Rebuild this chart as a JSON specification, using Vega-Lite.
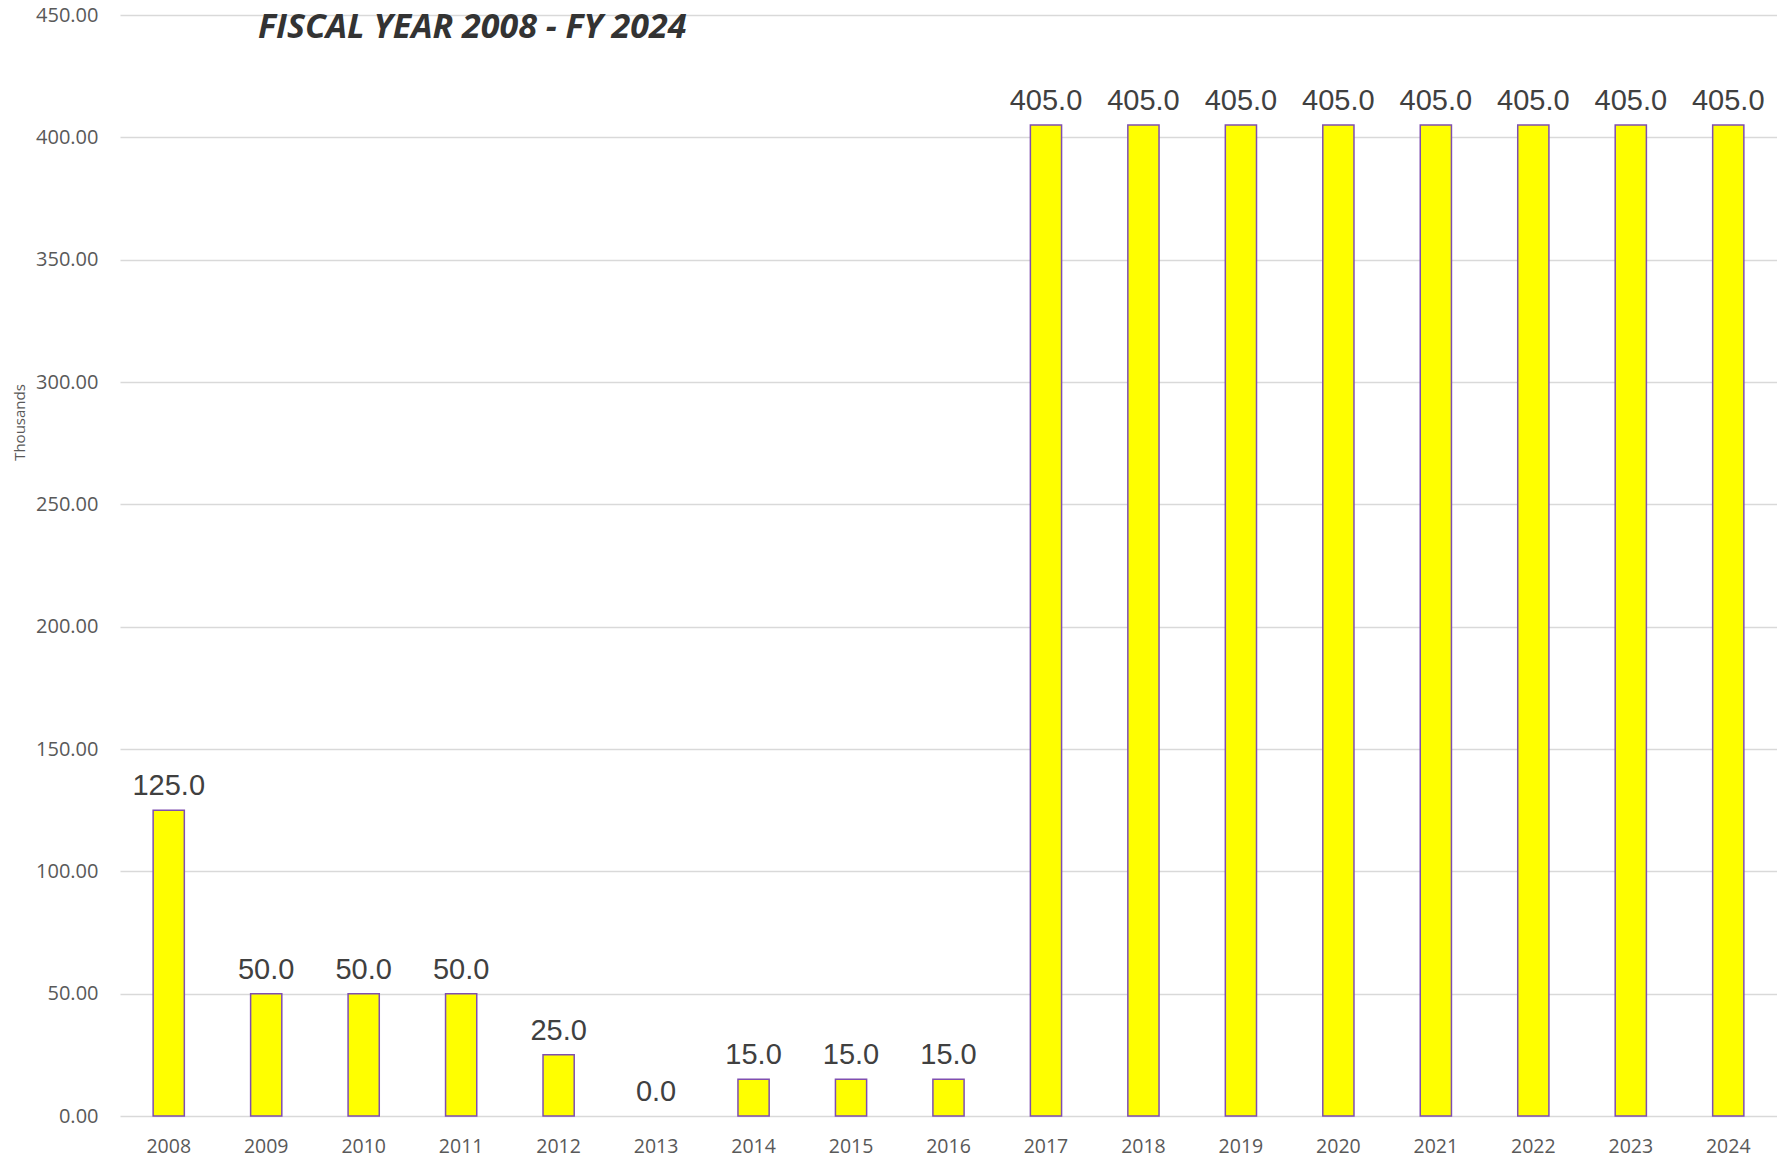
{
  "$schema": "https://vega.github.io/schema/vega-lite/v6.json",
  "width": 1657,
  "height": 1101,
  "autosize": {"type": "none"},
  "padding": {"left": 120, "top": 15, "right": 0, "bottom": 43},
  "background": "#ffffff",
  "title": {
    "text": "FISCAL YEAR 2008 - FY 2024",
    "anchor": "start",
    "frame": "group",
    "orient": "top",
    "font": "Open Sans",
    "fontSize": 34,
    "fontWeight": "bold",
    "fontStyle": "italic",
    "color": "#333333",
    "baseline": "alphabetic",
    "offset": 0,
    "dx": 138,
    "dy": 67
  },
  "data": {
    "values": [
      {"year": "2008", "value": 125},
      {"year": "2009", "value": 50},
      {"year": "2010", "value": 50},
      {"year": "2011", "value": 50},
      {"year": "2012", "value": 25},
      {"year": "2013", "value": 0},
      {"year": "2014", "value": 15},
      {"year": "2015", "value": 15},
      {"year": "2016", "value": 15},
      {"year": "2017", "value": 405},
      {"year": "2018", "value": 405},
      {"year": "2019", "value": 405},
      {"year": "2020", "value": 405},
      {"year": "2021", "value": 405},
      {"year": "2022", "value": 405},
      {"year": "2023", "value": 405},
      {"year": "2024", "value": 405}
    ]
  },
  "config": {
    "view": {"stroke": null},
    "axis": {"domain": false, "ticks": false}
  },
  "encoding": {
    "x": {
      "field": "year",
      "type": "ordinal",
      "scale": {"paddingInner": 0.68, "paddingOuter": 0.34},
      "axis": {
        "title": null,
        "labelAngle": 0,
        "labelFont": "Open Sans",
        "labelFontSize": 19.5,
        "labelColor": "#595959",
        "labelBaseline": "alphabetic",
        "labelPadding": 36,
        "grid": false
      }
    },
    "y": {
      "field": "value",
      "type": "quantitative",
      "scale": {"domain": [0, 450], "nice": false},
      "axis": {
        "title": "Thousands",
        "titleFont": "Open Sans",
        "titleFontSize": 15,
        "titleFontWeight": "normal",
        "titleColor": "#595959",
        "titleAngle": -90,
        "titleBaseline": "middle",
        "titleAlign": "center",
        "titleX": -101,
        "titleY": 407,
        "values": [0, 50, 100, 150, 200, 250, 300, 350, 400, 450],
        "format": ".2f",
        "labelFont": "Open Sans",
        "labelFontSize": 20,
        "labelColor": "#595959",
        "labelPadding": 22,
        "grid": true,
        "gridColor": "#D9D9D9",
        "gridWidth": 1.5
      }
    }
  },
  "layer": [
    {
      "mark": {"type": "bar", "fill": "#FFFF00", "strokeWidth": 1.5},
      "encoding": {
        "stroke": {"condition": {"test": "datum.value > 0", "value": "#7F4FB0"}, "value": null}
      }
    },
    {
      "mark": {"type": "text", "font": "Liberation Sans", "fontSize": 29, "color": "#404040", "baseline": "alphabetic", "dy": -15},
      "encoding": {
        "text": {"field": "value", "type": "quantitative", "format": ".1f"}
      }
    }
  ]
}
